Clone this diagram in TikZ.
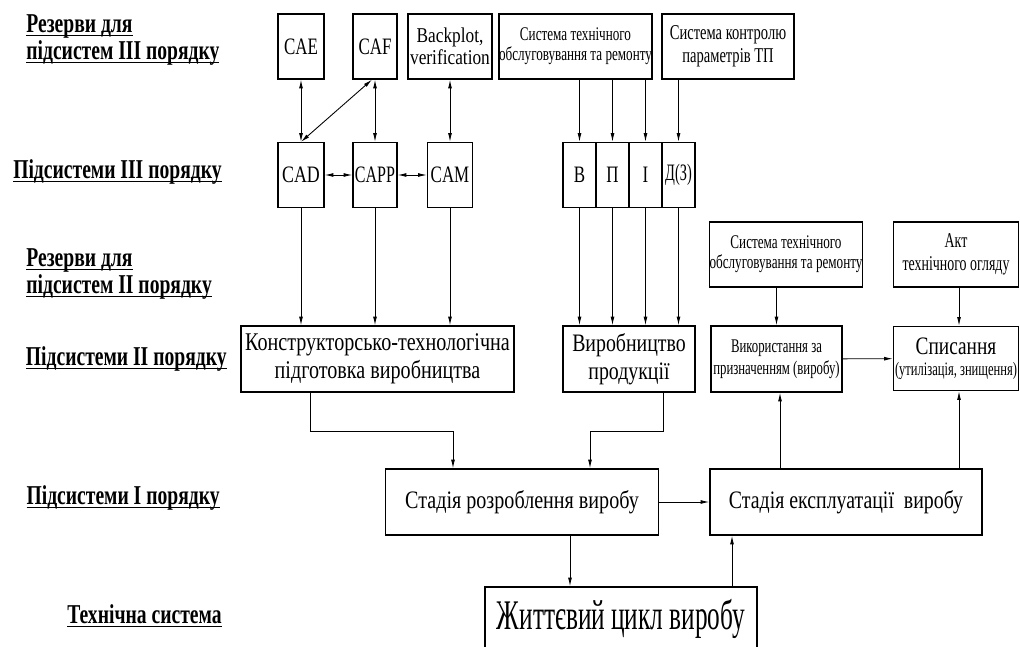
\documentclass[tikz,border=0pt]{standalone}
\usepackage{fontspec}
\setmainfont{Liberation Serif}
\usetikzlibrary{arrows.meta}
\newcommand{\ulin}[1]{\setbox0\hbox{#1}\rlap{\rule[-2pt]{\wd0}{0.7pt}}\box0}
% size, stretch, line factor
\newcommand{\fnt}[3]{\fontsize{#1}{#3\dimexpr #1pt\relax}\addfontfeature{FakeStretch=#2}}
\begin{document}
\begin{tikzpicture}[x=0.02cm, y=-0.02cm,
  blk/.style 2 args={draw, line width=0.7pt, inner sep=0pt, align=center,
    minimum width=#1*0.02cm, minimum height=#2*0.02cm},
  lvl/.style={align=left, inner sep=0pt, font=\bfseries\fnt{15.5}{0.72}{0.98}},
  arr/.style={-{Latex[length=5pt,width=2.2pt]}, line width=0.5pt},
  darr/.style={{Latex[length=5pt,width=2.2pt]}-{Latex[length=5pt,width=2.2pt]}, line width=0.5pt}]
\useasboundingbox (0,0) rectangle (1020,646);
% level labels
\node[lvl, anchor=west] (res3) at (26,40) {\ulin{Резерви для}\\\ulin{підсистем III порядку}};
\node[lvl, anchor=east] (sub3) at (222,172) {\ulin{Підсистеми III порядку}};
\node[lvl, anchor=west] (res2) at (26,274) {\ulin{Резерви для}\\\ulin{підсистем II порядку}};
\node[lvl, anchor=east] (sub2) at (227,359) {\ulin{Підсистеми II порядку}};
\node[lvl, anchor=east] (sub1) at (220,498) {\ulin{Підсистеми I порядку}};
\node[lvl, anchor=east] (tech) at (222,616) {\ulin{Технічна система}};
% reserves of III order
\node[blk={46}{65}, font=\fnt{13.4}{0.72}{1.1}] (cae) at (301,46.5) {CAE};
\node[blk={44}{65}, font=\fnt{13.4}{0.72}{1.1}] (caf) at (375,46.5) {CAF};
\node[blk={84}{65}, font=\fnt{12}{0.82}{1.05}] (bkp) at (450,46.5) {Backplot,\\verification};
\node[blk={151}{65}, font=\fnt{11}{0.68}{1.05}] (sto1) at (575.5,46.5) {Система технічного\\обслуговування та ремонту};
\node[blk={132}{65}, font=\fnt{12}{0.69}{1.1}] (skp) at (728,46.5) {Система контролю\\параметрів ТП};
% subsystems of III order
\node[blk={46}{65}, font=\fnt{13.4}{0.76}{1.1}] (cad) at (301,175) {CAD};
\node[blk={44}{65}, font=\fnt{13.4}{0.68}{1.1}] (capp) at (375,175) {CAPP};
\node[blk={45}{65}, font=\fnt{13.4}{0.72}{1.1}] (cam) at (450,175) {CAM};
\node[blk={33}{65}, font=\fnt{13.4}{0.72}{1.1}] (vb) at (579.5,175) {В};
\node[blk={33}{65}, font=\fnt{13.4}{0.72}{1.1}] (pb) at (612.5,175) {П};
\node[blk={33}{65}, font=\fnt{13.4}{0.72}{1.1}] (ib) at (645.5,175) {І};
\node[blk={33}{65}, font=\fnt{13.4}{0.61}{1.1}] (db) at (678.5,175) {Д(З)};
% reserves of II order
\node[blk={150}{65}, font=\fnt{11}{0.68}{1.05}] (sto2) at (786,254.5) {Система технічного\\обслуговування та ремонту};
\node[blk={125}{65}, font=\fnt{12}{0.66}{1.1}] (akt) at (956,254.5) {Акт\\технічного огляду};
% subsystems of II order
\node[blk={273}{66}, font=\fnt{14.5}{0.79}{1.1}] (ktp) at (377.5,359) {Конструкторсько-технологічна\\підготовка виробництва};
\node[blk={132}{66}, font=\fnt{14.3}{0.79}{1.1}] (vp) at (629,359) {Виробництво\\продукції};
\node[blk={131}{66}, font=\fnt{11}{0.66}{1.15}] (vzp) at (776.5,359) {Використання за\\призначенням (виробу)};
\node[blk={125}{64}] (spys) at (956,358.5) {{\fnt{14.3}{0.77}{1.1}Списання}\\{\fnt{10.8}{0.66}{1.1}(утилізація, знищення)}};
% subsystems of I order
\node[blk={273}{66}, font=\fnt{14.3}{0.8}{1.1}] (srv) at (522,502) {Стадія розроблення виробу};
\node[blk={272}{66}, font=\fnt{14.3}{0.79}{1.1}] (sev) at (846,502) {Стадія експлуатації\ \ виробу};
% technical system
\node[blk={272}{64}, font=\fnt{24}{0.6}{1.1}] (zhc) at (621,619) {Життєвий цикл виробу};
% III order links
\draw[darr] (cae) -- (cad);
\draw[darr] (caf) -- (capp);
\draw[darr] (bkp) -- (cam);
\draw[darr] ([xshift=-0.06cm]caf.south) -- (cad.north);
\draw[darr] (cad) -- (capp);
\draw[darr] (capp) -- (cam);
\draw[arr] (sto1.south -| vb) -- (vb.north);
\draw[arr] (sto1.south -| pb) -- (pb.north);
\draw[arr] (sto1.south -| ib) -- (ib.north);
\draw[arr] (skp.south -| db) -- (db.north);
% into II order
\draw[arr] (cad.south) -- (cad.south |- ktp.north);
\draw[arr] (capp.south) -- (capp.south |- ktp.north);
\draw[arr] (cam.south) -- (cam.south |- ktp.north);
\draw[arr] (vb.south) -- (vb.south |- vp.north);
\draw[arr] (pb.south) -- (pb.south |- vp.north);
\draw[arr] (ib.south) -- (ib.south |- vp.north);
\draw[arr] (db.south) -- (db.south |- vp.north);
\draw[arr] (vzp.north |- sto2.south) -- (vzp.north);
\draw[arr] (959,0 |- akt.south) -- (959,0 |- spys.north);
\draw[arr] (vzp) -- (spys);
% II order to I order
\draw[arr] (310,0 |- ktp.south) -- (310,431) -| (453,0 |- srv.north);
\draw[arr] (663,0 |- vp.south) -- (663,431) -| (590,0 |- srv.north);
\draw[arr] (srv) -- (sev);
\draw[arr] (780,0 |- sev.north) -- (780,0 |- vzp.south);
\draw[arr] (959,0 |- sev.north) -- (959,0 |- spys.south);
% I order and technical system
\draw[arr] (570,0 |- srv.south) -- (570,0 |- zhc.north);
\draw[arr] (732,0 |- zhc.north) -- (732,0 |- sev.south);
\end{tikzpicture}
\end{document}
